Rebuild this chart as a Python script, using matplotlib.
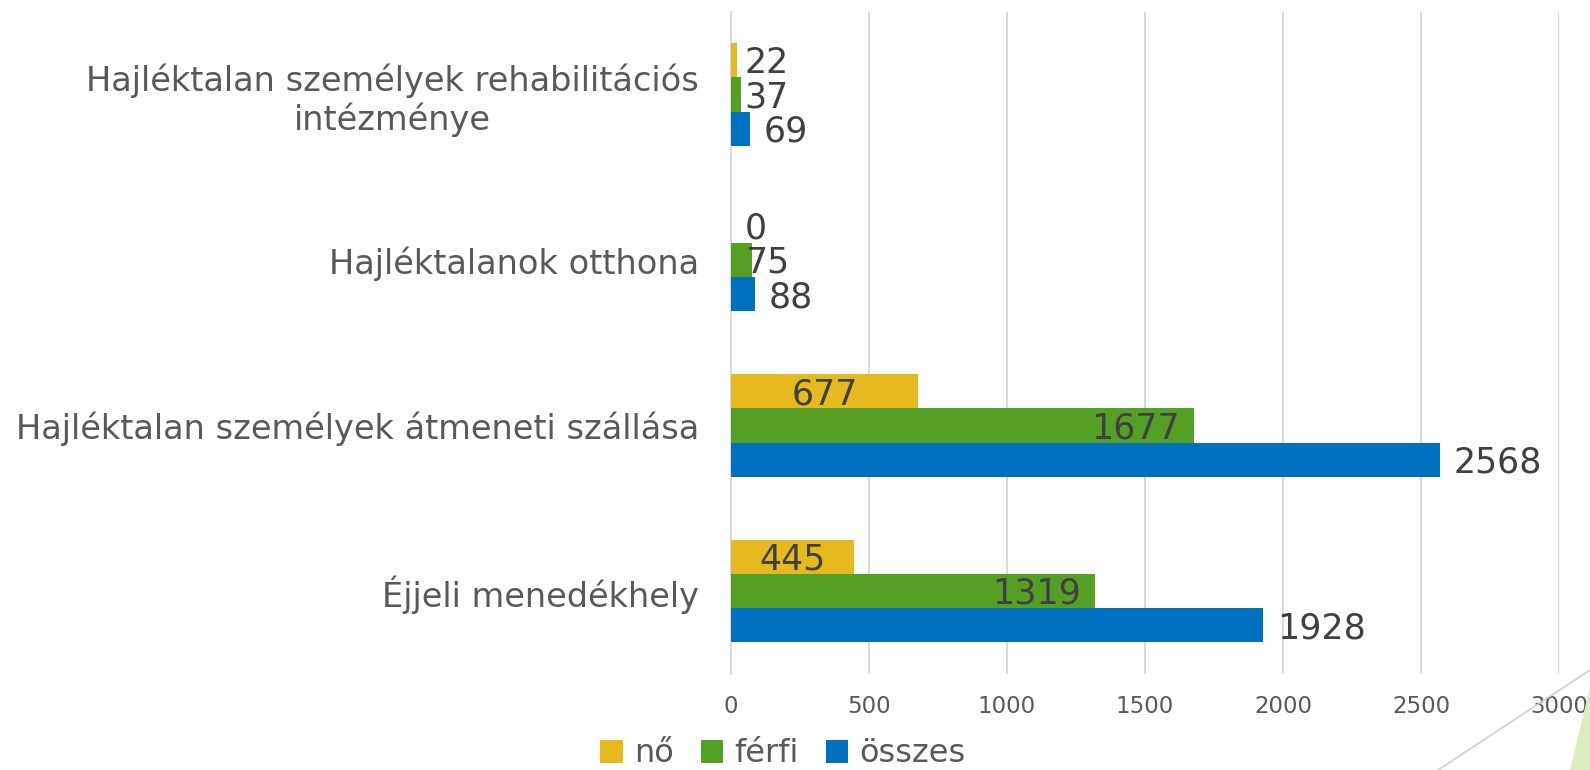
import numpy as np
import matplotlib.pyplot as plt
from matplotlib.patches import Polygon
from matplotlib.lines import Line2D

# data (categories listed top to bottom)
categories = ['Hajléktalan személyek rehabilitációs\nintézménye',
              'Hajléktalanok otthona',
              'Hajléktalan személyek átmeneti szállása',
              'Éjjeli menedékhely']
series_names = ['nő', 'férfi', 'összes']
no_values = [22, 0, 677, 445]
ferfi_values = [37, 75, 1677, 1319]
osszes_values = [69, 88, 2568, 1928]
x_ticks = [0, 500, 1000, 1500, 2000, 2500, 3000]

colors = ['#E6B91E', '#54A024', '#0070C0']
FONT = ['DejaVu Sans Condensed', 'DejaVu Sans']
plt.rcParams['font.family'] = FONT

fig = plt.figure(figsize=(15.9, 7.7), dpi=100)
ax = fig.add_axes([0.4597, 0.125, 0.9805 - 0.4597, 0.9847 - 0.125])

n = len(categories)
y = np.arange(n)[::-1].astype(float)
h = 0.207
series = [no_values, ferfi_values, osszes_values]
offsets = [h, 0, -h]

for vals, off, col, name in zip(series, offsets, colors, series_names):
    ax.barh(y + off, vals, height=h, color=col, label=name, zorder=3)

# data labels
for i in range(n):
    for s, (vals, off) in enumerate(zip(series, offsets)):
        v = vals[i]
        yy = y[i] + off
        if s == 2:
            ax.annotate(str(v), (v, yy), xytext=(10, -2), textcoords='offset points',
                        ha='left', va='center', fontsize=25, color='#404040')
        elif v < 100:
            ax.annotate(str(v), (0, yy), xytext=(10, -2), textcoords='offset points',
                        ha='left', va='center', fontsize=25, color='#404040')
        elif s == 0:
            ax.annotate(str(v), (v / 2, yy), xytext=(0, -2), textcoords='offset points',
                        ha='center', va='center', fontsize=25, color='#404040')
        else:
            ax.annotate(str(v), (v, yy), xytext=(-10, -2), textcoords='offset points',
                        ha='right', va='center', fontsize=25, color='#404040')

ax.set_xlim(0, 3000)
ax.set_ylim(-0.5, n - 0.5)
ax.set_xticks(x_ticks)
ax.set_xticklabels([str(t) for t in x_ticks])
ax.set_yticks(y)
ax.set_yticklabels(categories, multialignment='center', linespacing=1.15)
ax.tick_params(axis='x', length=0, pad=15, labelsize=16.5, labelcolor='#595959')
ax.tick_params(axis='y', length=0, pad=23, labelsize=24.2, labelcolor='#595959')
ax.grid(axis='x', color='#D9D9D9', linewidth=1.4, zorder=0)
for side in ['top', 'right', 'bottom']:
    ax.spines[side].set_visible(False)
ax.spines['left'].set_color('#D9D9D9')
ax.spines['left'].set_linewidth(1.4)

leg = fig.legend(loc='center', bbox_to_anchor=(783 / 1590, 1 - 754 / 770), ncol=3,
                 frameon=False, fontsize=23, handlelength=0.7, handleheight=0.7,
                 handletextpad=0.35, columnspacing=0.85, labelcolor='#595959')

# slide decoration, bottom right
fig.add_artist(Line2D([1438 / 1590, 1.0], [0, 1 - 670 / 770], transform=fig.transFigure,
                      color='#D0D0D0', linewidth=1.2))
fig.add_artist(Polygon([[1570 / 1590, 0], [1.0, 1 - 687 / 770], [1.0, 0]], closed=True,
                       transform=fig.transFigure, facecolor='#DCEBC2', edgecolor='none'))

fig.savefig('out.png', dpi=100)
